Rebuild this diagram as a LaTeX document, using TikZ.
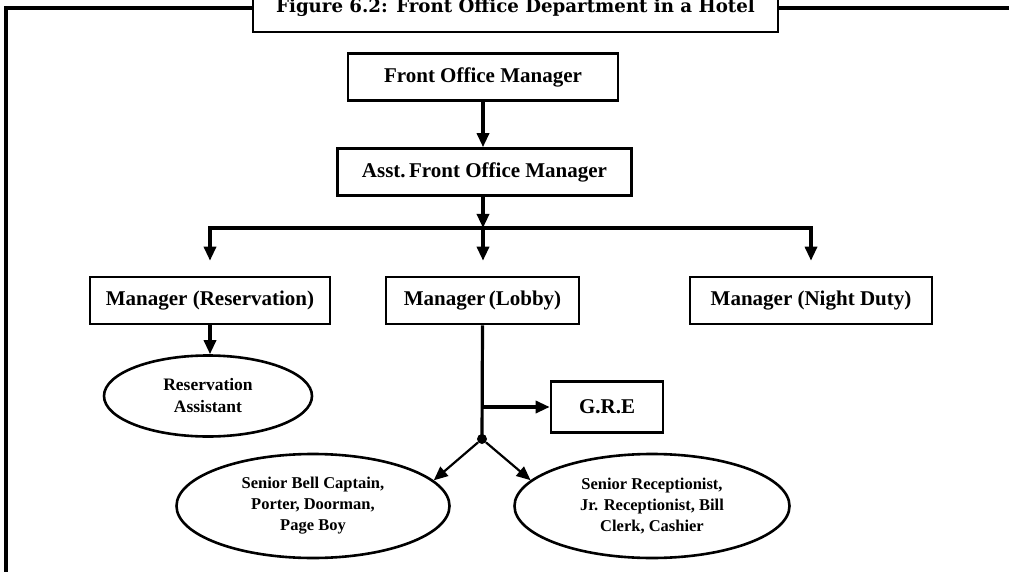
\documentclass[tikz,border=0pt]{standalone}
\usepackage{fontspec}
\setmainfont{Liberation Serif}
\newfontfamily\titlefont{DejaVu Serif}
\usetikzlibrary{arrows.meta,shapes.geometric}
\tikzset{
  poste/.style={draw, line width=2.6pt, fill=white, inner sep=0pt, minimum height=47pt,
    font=\bfseries\fontsize{21}{24}\selectfont},
  equipe/.style={draw, ellipse, line width=2.6pt, inner sep=0pt, align=center,
    font=\bfseries\fontsize{16.5}{21}\selectfont},
  fleche/.style={line width=3.2pt, -{Triangle[width=12pt,length=14pt]}},
  trait/.style={line width=3.2pt},
}
\begin{document}
\begin{tikzpicture}[x=1pt, y=-1pt]
\useasboundingbox (0,0) rectangle (1009,572);
%Cadre et titre
\draw[line width=3.2pt] (6,590) -- (6,8) -- (1030,8);
\node[draw, line width=2.8pt, fill=white, minimum width=525pt, text height=40pt, text depth=0pt,
  inner ysep=19pt, anchor=base, font=\titlefont\bfseries\fontsize{18.2}{20}\selectfont]
  (titre) at (515.5,13) {Figure 6.2: Front Office Department in a Hotel};
%Noeuds de l'organigramme
\node[poste, minimum width=270pt] (FOM) at (483,77) {Front Office Manager};
\node[poste, minimum width=294pt] (AFOM) at (484.5,172) {Asst.\,Front Office Manager};
\node[poste, minimum width=240pt] (MRes) at (210,300.5) {Manager (Reservation)};
\node[poste, minimum width=193pt] (MLob) at (482.5,300.5) {Manager\,(Lobby)};
\node[poste, minimum width=242pt] (MNig) at (811,300.5) {Manager (Night Duty)};
\node[poste, minimum width=112pt, minimum height=51pt] (GRE) at (607,407) {G.R.E};
\node[equipe, minimum width=208pt, minimum height=81pt,
  font=\bfseries\fontsize{17.5}{22}\selectfont] (RA) at (208,396) {Reservation\\Assistant};
\node[equipe, minimum width=273pt, minimum height=104pt] (SBC) at (313,506)
  {Senior Bell Captain,\\Porter, Doorman,\\Page Boy};
\node[equipe, minimum width=275pt, minimum height=104pt] (SRec) at (652,506)
  {Senior Receptionist,\\Jr. Receptionist, Bill\\Clerk, Cashier};
\node[circle, fill, inner sep=0pt, minimum size=10pt] (Noeud) at (482,439) {};
\coordinate (J) at (483,228);
%Liens
\draw[fleche] (FOM.south) -- (FOM.south |- AFOM.north);
\draw[fleche] (AFOM.south -| FOM.south) -- (J);
\draw[fleche, shorten >=15pt] (J) -| (MRes.north);
\draw[fleche, shorten >=15pt] (J) -| (MNig.north);
\draw[fleche, shorten >=15pt] (J) -- (J |- MLob.north);
\draw[fleche] (MRes.south) -- (MRes.south |- RA.north);
\draw[trait] (MLob.south) -- (Noeud.center);
\draw[fleche] (MLob.south |- GRE.west) -- (GRE.west);
\draw[fleche, line width=2.2pt] (Noeud) -- (SBC.12);
\draw[fleche, line width=2.2pt] (Noeud) -- (SRec.168);
\end{tikzpicture}
\end{document}
